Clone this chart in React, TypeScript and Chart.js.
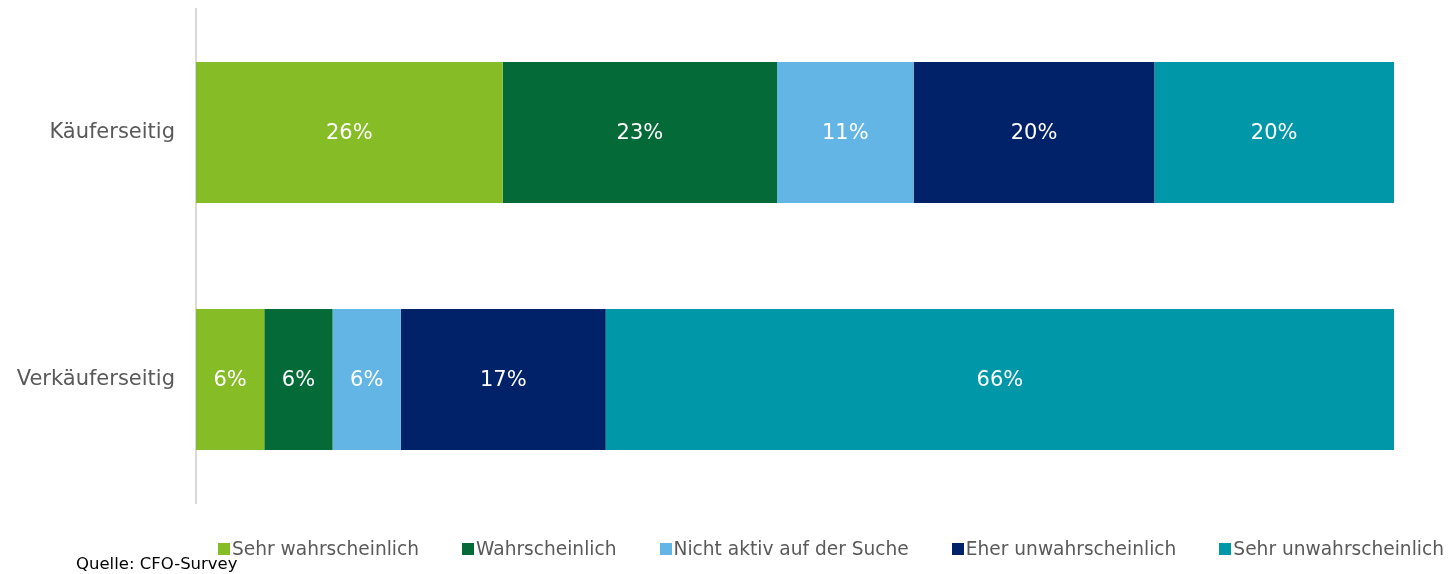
import React, { useEffect, useRef } from "react";
import { Chart, registerables } from "chart.js";

Chart.register(...registerables);

const categories = ["Käuferseitig", "Verkäuferseitig"];
const seriesNames = [
  "Sehr wahrscheinlich",
  "Wahrscheinlich",
  "Nicht aktiv auf der Suche",
  "Eher unwahrscheinlich",
  "Sehr unwahrscheinlich",
];
const sehrWahrscheinlich = [25.6, 5.7];
const wahrscheinlich = [22.9, 5.7];
const nichtAktiv = [11.4, 5.7];
const eherUnwahrscheinlich = [20.1, 17.1];
const sehrUnwahrscheinlich = [20.0, 65.8];
const seriesColors = ["#86BC25", "#046A38", "#62B5E5", "#012169", "#0097A9"];
const sourceText = "Quelle: CFO-Survey";

const FONT = "'DejaVu Sans', Verdana, sans-serif";

const valueLabels = {
  id: "valueLabels",
  afterDatasetsDraw(chart: any) {
    const ctx = chart.ctx;
    ctx.save();
    ctx.font = `21px ${FONT}`;
    ctx.fillStyle = "#ffffff";
    ctx.textAlign = "center";
    ctx.textBaseline = "middle";
    chart.data.datasets.forEach((ds: any, i: number) => {
      const meta = chart.getDatasetMeta(i);
      meta.data.forEach((el: any, j: number) => {
        const v = ds.data[j];
        const p = el.getProps(["x", "base", "y"], true);
        ctx.fillText(Math.round(v) + "%", (p.x + p.base) / 2, p.y + 1);
      });
    });
    ctx.restore();
  },
};

export default function App() {
  const canvasRef = useRef<HTMLCanvasElement>(null);

  useEffect(() => {
    if (!canvasRef.current) return;
    const values = [
      sehrWahrscheinlich,
      wahrscheinlich,
      nichtAktiv,
      eherUnwahrscheinlich,
      sehrUnwahrscheinlich,
    ];
    const chart = new Chart(canvasRef.current, {
      type: "bar",
      data: {
        labels: categories,
        datasets: seriesNames.map((name, i) => ({
          label: name,
          data: values[i],
          backgroundColor: seriesColors[i],
          borderWidth: 0,
          categoryPercentage: 1,
          barPercentage: 0.571,
        })),
      },
      options: {
        indexAxis: "y",
        responsive: false,
        animation: false,
        layout: { padding: { top: 9, right: 58, bottom: 71, left: 0 } },
        plugins: {
          legend: { display: false },
          tooltip: { enabled: false },
        },
        scales: {
          x: {
            display: false,
            stacked: true,
            min: 0,
            max: 100,
          },
          y: {
            stacked: true,
            grid: { display: false, drawTicks: false },
            border: { display: true, color: "#d9d9d9", width: 2 },
            ticks: {
              color: "#595959",
              padding: 21,
              font: { size: 21, family: FONT },
            },
            afterFit: (scale: any) => {
              scale.width = 196;
              scale.paddingTop = 0;
              scale.paddingBottom = 0;
            },
          },
        },
      },
      plugins: [valueLabels],
    });
    return () => chart.destroy();
  }, []);

  return (
    <div
      style={{
        position: "fixed",
        left: 0,
        top: 0,
        width: 1452,
        height: 574,
        background: "#ffffff",
        fontFamily: FONT,
      }}
    >
      <canvas ref={canvasRef} width={1452} height={574} style={{ display: "block" }} />
      <div
        style={{
          position: "absolute",
          left: 218,
          top: 537,
          display: "flex",
          alignItems: "center",
          gap: 43,
          whiteSpace: "nowrap",
          color: "#595959",
          fontSize: 18.6,
          lineHeight: "24px",
        }}
      >
        {seriesNames.map((name, i) => (
          <div key={name} style={{ display: "flex", alignItems: "center" }}>
            <span
              style={{
                display: "inline-block",
                width: 12,
                height: 12,
                background: seriesColors[i],
                marginRight: 2,
              }}
            />
            <span>{name}</span>
          </div>
        ))}
      </div>
      <div
        style={{
          position: "absolute",
          left: 76,
          top: 554,
          color: "#000000",
          fontSize: 16.5,
          lineHeight: "20px",
          whiteSpace: "nowrap",
        }}
      >
        {sourceText}
      </div>
    </div>
  );
}
